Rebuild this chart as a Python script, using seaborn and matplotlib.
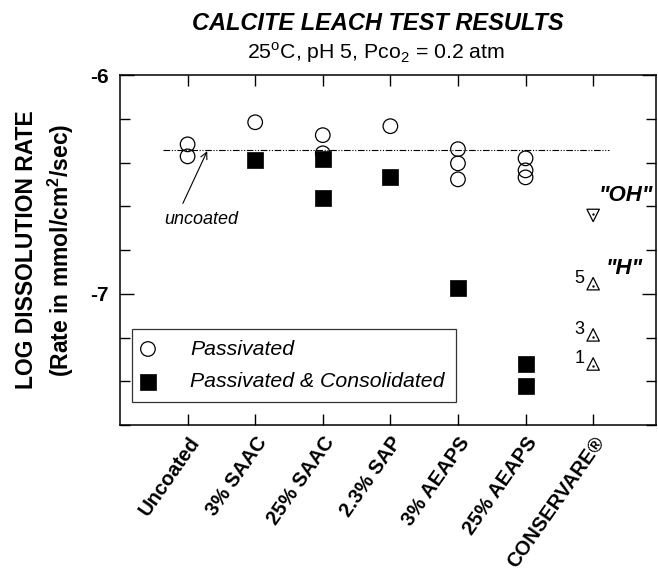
import matplotlib
matplotlib.use("Agg")
import matplotlib.pyplot as plt
import seaborn as sns
import pandas as pd
import numpy as np

categories = ["Uncoated", "3% SAAC", "25% SAAC", "2.3% SAP", "3% AEAPS", "25% AEAPS", "CONSERVARE®"]

passivated_cat = ["Uncoated", "Uncoated", "3% SAAC", "25% SAAC", "25% SAAC", "2.3% SAP",
                  "3% AEAPS", "3% AEAPS", "3% AEAPS", "25% AEAPS", "25% AEAPS", "25% AEAPS"]
passivated_val = [-6.317, -6.372, -6.216, -6.275, -6.358, -6.234,
                  -6.339, -6.404, -6.477, -6.381, -6.436, -6.468]

consol_cat = ["3% SAAC", "25% SAAC", "25% SAAC", "2.3% SAP", "3% AEAPS", "25% AEAPS", "25% AEAPS"]
consol_val = [-6.39, -6.385, -6.564, -6.468, -6.972, -7.321, -7.422]

oh_val = [-6.642]
h_val = [-6.954, -7.188, -7.321]
h_labels = ["5", "3", "1"]
uncoated_line = -6.344

sns.set_theme(style="ticks")
plt.rcParams['font.family'] = ['Liberation Sans', 'DejaVu Sans']
plt.rcParams['text.color'] = 'black'
plt.rcParams['axes.labelcolor'] = 'black'
plt.rcParams['xtick.color'] = 'black'
plt.rcParams['ytick.color'] = 'black'
plt.rcParams['axes.edgecolor'] = 'black'

fig = plt.figure(figsize=(6.58, 5.78), dpi=100)
ax = fig.add_axes([120/658, (578-425)/578, 536/658, 350/578])

pos = {c: i for i, c in enumerate(categories)}
df_p = pd.DataFrame({"x": [pos[c] for c in passivated_cat], "y": passivated_val, "kind": "Passivated"})
df_c = pd.DataFrame({"x": [pos[c] for c in consol_cat], "y": consol_val, "kind": "Passivated & Consolidated"})

ax.axhline(uncoated_line, xmin=(-0.37+1)/7.93, xmax=(6.24+1)/7.93, color="black", lw=0.8,
           linestyle=(0, (6, 1.5, 1, 1.5, 1, 1.5)), zorder=1)

sns.scatterplot(data=df_p, x="x", y="y", ax=ax, marker="o", s=110, facecolor="none",
                edgecolor="black", linewidth=0.9, label="Passivated", zorder=3)
sns.scatterplot(data=df_c, x="x", y="y", ax=ax, marker="s", s=120, color="black",
                edgecolor="black", linewidth=0.5, label="Passivated & Consolidated", zorder=3)

cx = pos["CONSERVARE®"]
ax.scatter([cx]*len(oh_val), oh_val, marker="v", s=80, facecolor="none", edgecolor="black", linewidth=0.9)
ax.scatter([cx]*len(oh_val), [v + 0.008 for v in oh_val], marker=".", s=2, color="black")
ax.scatter([cx]*len(h_val), h_val, marker="^", s=80, facecolor="none", edgecolor="black", linewidth=0.9)
ax.scatter([cx]*len(h_val), [v - 0.01 for v in h_val], marker=".", s=2, color="black")
for v, lab in zip(h_val, h_labels):
    ax.text(cx - 0.13, v + 0.025, lab, ha="right", va="center", fontsize=13)
ax.text(cx + 0.08, oh_val[0] + 0.092, '"OH"', ha="left", va="center", fontsize=16,
        fontweight="bold", style="italic")
ax.text(cx + 0.19, h_val[0] + 0.07, '"H"', ha="left", va="center", fontsize=16,
        fontweight="bold", style="italic")

ax.text(-0.34, -6.66, "uncoated", fontsize=13, style="italic", ha="left", va="center")
ax.annotate("", xy=(0.29, uncoated_line - 0.004), xytext=(-0.07, -6.587),
            arrowprops=dict(arrowstyle="->", color="black", lw=0.8, shrinkA=0, shrinkB=0))

ax.set_xlim(-1, 6.93)
ax.set_ylim(-7.6, -6.0)
ax.set_xticks(range(len(categories)))
ax.set_xticklabels(categories, rotation=55, ha="right", rotation_mode="anchor",
                   fontsize=14.5, fontweight="bold")
ax.set_yticks([-7, -6])
ax.set_yticklabels(["-7", "-6"], fontsize=15, fontweight="bold")
ax.set_yticks(np.arange(-7.6, -5.99, 0.2), minor=True)
ax.tick_params(axis="both", which="both", direction="in", top=True, right=True, color="black")
ax.tick_params(axis="x", which="major", length=8, width=1, pad=6)
ax.tick_params(axis="y", which="major", length=10, width=1, pad=8)
ax.tick_params(axis="y", which="minor", length=7, width=1)
for s in ax.spines.values():
    s.set_color("black")
    s.set_linewidth(1.1)
ax.set_xlabel("")
ax.set_ylabel("LOG DISSOLUTION RATE\n(Rate in mmol/cm$^\\mathregular{2}$/sec)", fontsize=16.5,
              fontweight="bold", labelpad=10, linespacing=1.35)

leg = ax.legend(loc="lower left", bbox_to_anchor=(12/536, 23/350), frameon=True, fancybox=False,
                edgecolor="black", fontsize=15.3, handlelength=0.5, handletextpad=1.75,
                borderpad=0.5, labelspacing=0.65, borderaxespad=0)
leg.get_frame().set_linewidth(0.9)
for t in leg.get_texts():
    t.set_style("italic")
    t.set_color("black")

fig.text(378/658, 1 - 23/578, "CALCITE LEACH TEST RESULTS", ha="center", va="center",
         fontsize=17, fontweight="bold", style="italic", color="black")
fig.text(376/658, 1 - 53/578, "25$^\\mathregular{o}$C, pH 5, Pco$_\\mathregular{2}$ = 0.2 atm",
         ha="center", va="center", fontsize=15.3, color="black")

fig.savefig("out.png", dpi=100, facecolor="white")
